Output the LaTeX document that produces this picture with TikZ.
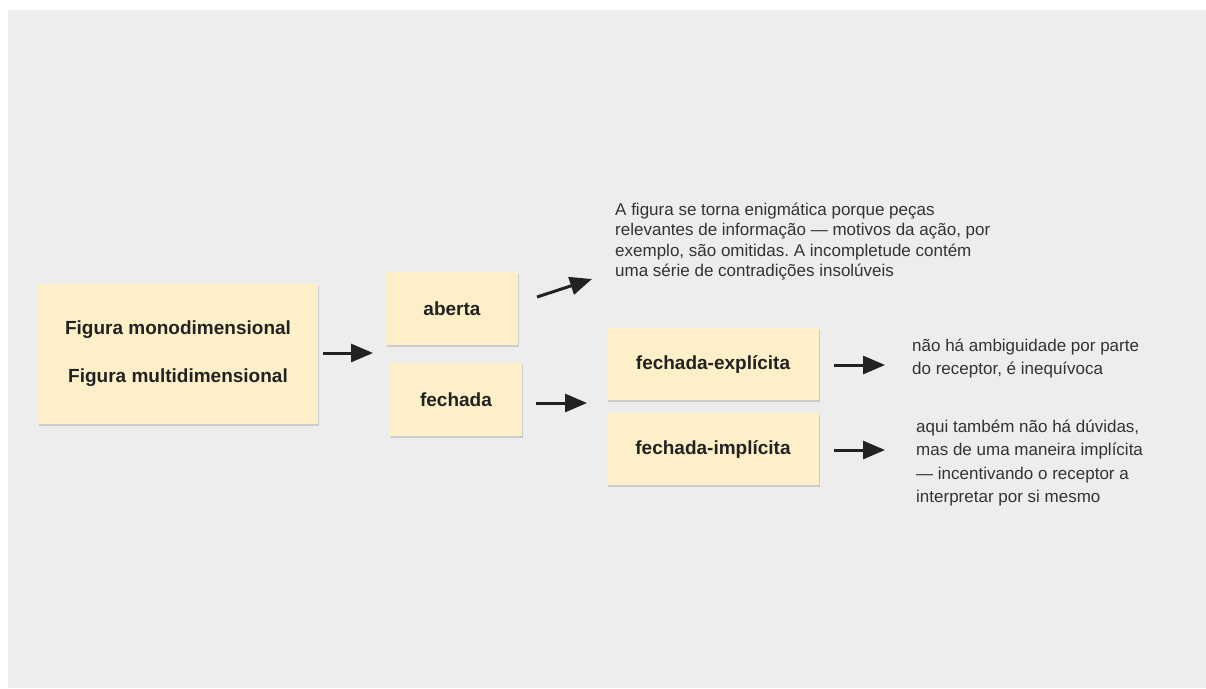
\documentclass[tikz,border=0pt]{standalone}
\usepackage{fontspec}
\setmainfont{Liberation Sans}
\usetikzlibrary{arrows.meta,shadows}
\definecolor{bgray}{HTML}{EDEDED}
\definecolor{cardfill}{HTML}{FDF0C9}
\definecolor{ink}{HTML}{222222}
\definecolor{txt}{HTML}{333333}
\frenchspacing
\begin{document}
\begin{tikzpicture}[x=1pt,y=-1pt,
  card/.style={fill=cardfill, draw=none, inner sep=0pt, align=center,
    drop shadow={shadow xshift=1pt,shadow yshift=-1.5pt,opacity=0.25,fill=black!60},
    font=\bfseries\fontsize{19}{48}\selectfont, text=ink},
  note/.style={anchor=west, align=left, inner sep=0pt, text=txt},
  arr/.style={draw=ink, line width=3pt, -{Triangle[length=22pt,width=18pt]}}
]
\useasboundingbox (0,0) rectangle (1206,688);
\fill[white] (0,0) rectangle (1206,688);
\fill[bgray] (8,10) rectangle (1206,688);

\node[card, minimum width=280pt, minimum height=140pt] (main) at (178,354)
  {Figura monodimensional\\Figura multidimensional};
\node[card, minimum width=132pt, minimum height=73pt] (aberta) at (452,308.5) {aberta};
\node[card, minimum width=132pt, minimum height=73pt] (fechada) at (456,399.5) {fechada};
\node[card, minimum width=212pt, minimum height=72pt] (fexp) at (713,364) {fechada-explícita};
\node[card, minimum width=212pt, minimum height=72pt] (fimp) at (713,449) {fechada-implícita};

\node[note, font=\fontsize{17}{20.5}\selectfont] (t1) at (615,241.5)
  {A figura se torna enigmática porque peças\\relevantes de informação — motivos da ação, por\\exemplo, são omitidas. A incompletude contém\\uma série de contradições insolúveis};
\node[note, font=\fontsize{17}{23}\selectfont] (t2) at (912,358.5)
  {não há ambiguidade por parte\\do receptor, é inequívoca};
\node[note, font=\fontsize{17}{23.3}\selectfont] (t3) at (916,463)
  {aqui também não há dúvidas,\\mas de uma maneira implícita\\— incentivando o receptor a\\interpretar por si mesmo};

\coordinate (a1s) at (323,353);
\coordinate (a1e) at (373,353);
\coordinate (a2s) at (537,297);
\coordinate (a2e) at (592,279);
\coordinate (a3s) at (536,403);
\coordinate (a3e) at (587,403);
\coordinate (a4s) at (834,365);
\coordinate (a4e) at (885,365);
\coordinate (a5s) at (834,450);
\coordinate (a5e) at (885,450);
\draw[arr] (a1s) -- (a1e);
\draw[arr] (a2s) -- (a2e);
\draw[arr] (a3s) -- (a3e);
\draw[arr] (a4s) -- (a4e);
\draw[arr] (a5s) -- (a5e);
\end{tikzpicture}
\end{document}
